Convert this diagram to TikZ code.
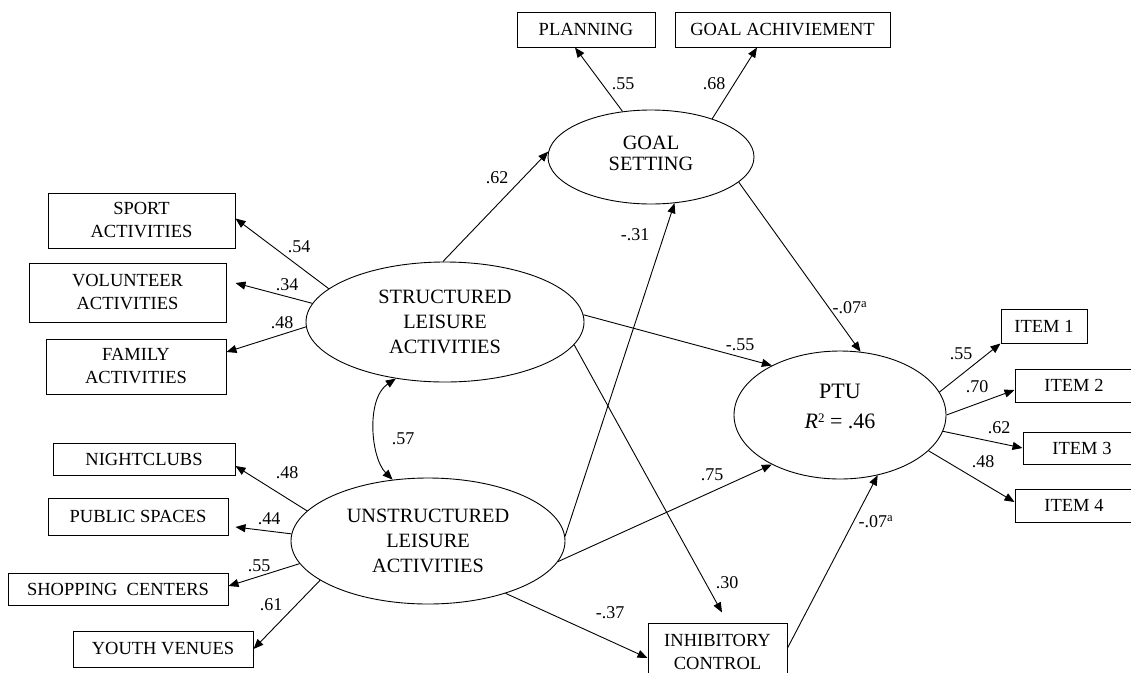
\documentclass[tikz,border=0pt]{standalone}
\usepackage{fontspec}
\setmainfont{Liberation Serif}
\usetikzlibrary{shapes.geometric,arrows.meta,calc}
\begin{document}
\begin{tikzpicture}[x=1pt,y=-1pt,
  lv/.style={draw,ellipse,inner sep=0pt,align=center,line width=0.9pt,font=\fontsize{20.3}{25}\selectfont},
  ob/.style={draw,rectangle,inner sep=0pt,align=center,line width=1pt,font=\fontsize{18.5}{23}\selectfont},
  pth/.style={-{Triangle[length=10pt,width=8pt]},line width=0.9pt},
  cov/.style={{Triangle[length=10pt,width=8pt]}-{Triangle[length=10pt,width=8pt]},line width=0.9pt},
  lb/.style={font=\fontsize{18}{20}\selectfont,inner sep=0pt}]
\useasboundingbox (0,0) rectangle (1131,672);
% latent variables
\node[lv,minimum width=278pt,minimum height=120pt] (s) at (445,322) {STRUCTURED\\LEISURE\\ACTIVITIES};
\node[lv,minimum width=274pt,minimum height=126pt] (u) at (428,541) {UNSTRUCTURED\\LEISURE\\ACTIVITIES};
\node[lv,minimum width=206pt,minimum height=94pt,font=\fontsize{20.3}{21}\selectfont] (g) at (651,157) {GOAL\\SETTING\rule[-8pt]{0pt}{0pt}};
\node[lv,minimum width=212pt,minimum height=128pt,font=\fontsize{22}{30}\selectfont] (p) at (840,415) {PTU\\\textit{R}\raisebox{0.3em}{\fontsize{13}{13}\selectfont 2} = .46\rule[-17pt]{0pt}{0pt}};
% observed boxes
\node[ob,minimum width=187pt,minimum height=55pt] (sport) at (141.5,220.5) {SPORT\\ACTIVITIES};
\node[ob,minimum width=197pt,minimum height=59pt] (vol) at (127.5,292.5) {VOLUNTEER\\ACTIVITIES};
\node[ob,minimum width=180pt,minimum height=55pt] (fam) at (136,366.5) {FAMILY\\ACTIVITIES};
\node[ob,minimum width=182pt,minimum height=32pt] (night) at (144,459) {NIGHTCLUBS};
\node[ob,minimum width=180pt,minimum height=37pt] (pub) at (138,516.5) {PUBLIC SPACES};
\node[ob,minimum width=220pt,minimum height=32pt] (shop) at (118,589) {SHOPPING~~CENTERS};
\node[ob,minimum width=180pt,minimum height=36pt] (youth) at (163,649) {YOUTH VENUES};
\node[ob,minimum width=138pt,minimum height=35pt] (plan) at (586,29.5) {PLANNING};
\node[ob,minimum width=215pt,minimum height=35pt] (ach) at (782.5,29.5) {GOAL ACHIVIEMENT};
\node[ob,minimum width=86pt,minimum height=34pt] (item1) at (1044,326) {ITEM 1};
\node[ob,minimum width=118pt,minimum height=33pt] (item2) at (1074,385.5) {ITEM 2};
\node[ob,minimum width=118pt,minimum height=32pt] (item3) at (1082,448) {ITEM 3};
\node[ob,minimum width=118pt,minimum height=33pt] (item4) at (1074,505.5) {ITEM 4};
\node[ob,minimum width=139pt,minimum height=58pt] (inh) at (717.5,652) {INHIBITORY\\CONTROL};
% structured paths
\draw[pth] (s.164.7) -- ($(sport.east)+(0,-2)$);
\draw[pth] (s.172.8) -- ($(vol.east)+(9,-9.5)$);
\draw[pth] (s.182.9) -- ($(fam.east)+(0,-14.5)$);
\draw[pth] (s.92) -- (g.177.8);
\draw[pth] (s.3.7) -- (p.144.2);
\draw[pth] (s.-10.5) -- ($(inh.north)+(4.5,-10)$);
\draw[cov] (s.229) .. controls +(-30,20) and +(-22,-22) .. (u.120.7);
% unstructured paths
\draw[pth] (u.166.1) -- ($(night.east)+(0,7)$);
\draw[pth] (u.177.1) -- ($(pub.east)+(7,10.5)$);
\draw[pth] (u.190.5) -- ($(shop.east)+(0,-3)$);
\draw[pth] (u.200.1) -- (youth.east);
\draw[pth] (u.2.5) -- (g.-63.4);
\draw[pth] (u.-9.6) -- (p.216.4);
\draw[pth] (u.-34.2) -- ($(inh.west)+(0,6)$);
% goal setting paths
\draw[pth] (g.122) -- ($(plan.south)+(-11,0)$);
\draw[pth] (g.32.4) -- ($(ach.south)+(-25.5,0)$);
\draw[pth] (g.-16.8) -- (p.72.6);
% inhibitory control
\draw[pth] ($(inh.east)+(0,-4)$) -- (p.-58.3);
% PTU items
\draw[pth] (p.13.8) -- (item1.south west);
\draw[pth] (p.0) -- ($(item2.west)+(0,4.5)$);
\draw[pth] (p.-9.2) -- (item3.west);
\draw[pth] (p.-22.7) -- ($(item4.west)+(0,-3.5)$);
% labels
\node[lb] (lplan) at (623,84) {.55};
\node[lb] (lach) at (714,84) {.68};
\node[lb] (lsg) at (497,178) {.62};
\node[lb] (lug) at (635,235) {-.31};
\node[lb] (lsport) at (299,247) {.54};
\node[lb] (lvol) at (287,285) {.34};
\node[lb] (lfam) at (282,323) {.48};
\node[lb] (lsp) at (740,345) {-.55};
\node[lb] (lgp) at (850,308) {-.07\textsuperscript{a}};
\node[lb] (lcov) at (403,439) {.57};
\node[lb] (lnight) at (287,473) {.48};
\node[lb] (lpub) at (269,519) {.44};
\node[lb] (lshop) at (259,566) {.55};
\node[lb] (lyouth) at (271,605) {.61};
\node[lb] (lup) at (712,475) {.75};
\node[lb] (lsi) at (727,583) {.30};
\node[lb] (lui) at (610,613) {-.37};
\node[lb] (lip) at (876,522) {-.07\textsuperscript{a}};
\node[lb] (li1) at (961,354) {.55};
\node[lb] (li2) at (977,387) {.70};
\node[lb] (li3) at (999,428) {.62};
\node[lb] (li4) at (983,462) {.48};
\end{tikzpicture}
\end{document}
